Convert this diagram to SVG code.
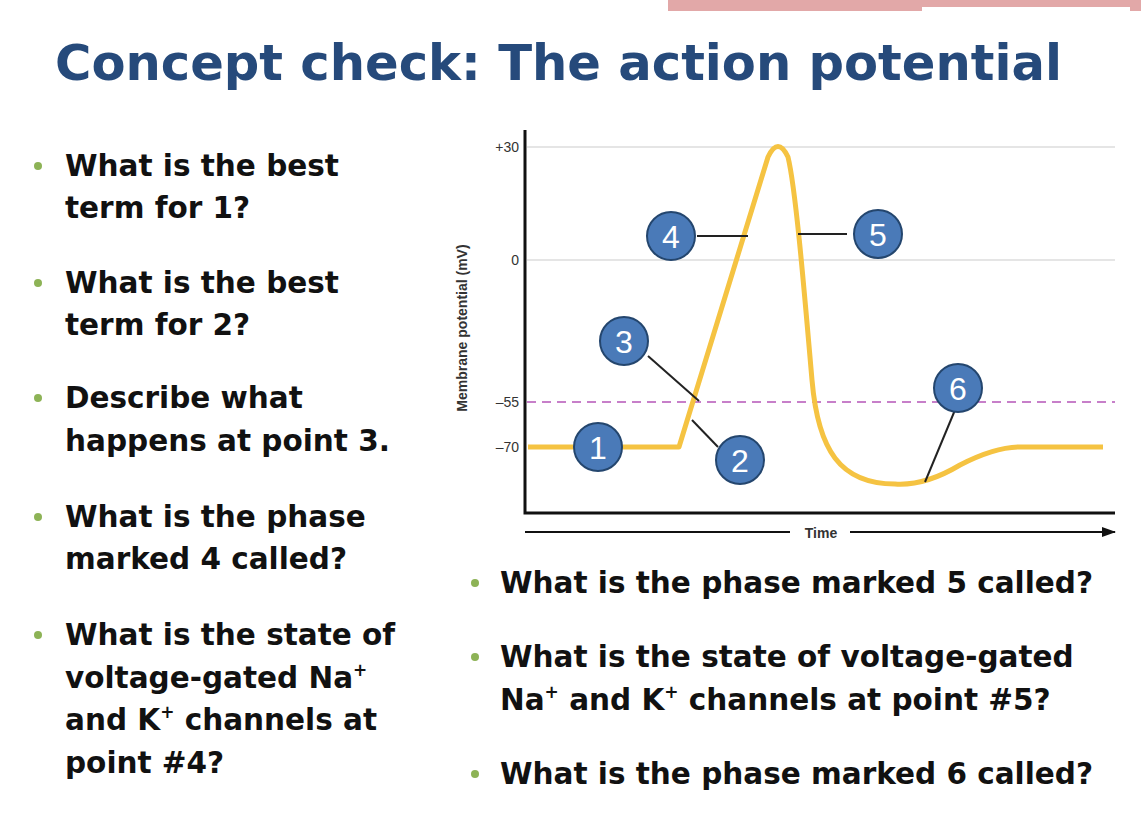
<svg xmlns="http://www.w3.org/2000/svg" width="1141" height="833" viewBox="0 0 1141 833">
<style>
.t{font-family:"DejaVu Sans",Verdana,sans-serif;font-weight:bold;font-size:29.5px;fill:#111}
.b{fill:#8db356}
.ax{font-family:"Liberation Sans",Arial,sans-serif;font-size:14px;fill:#333}
.c{fill:#4a7ab8;stroke:#24466e;stroke-width:2}
.n{font-family:"Liberation Sans Narrow","Liberation Sans",Arial,sans-serif;font-size:32px;fill:#fff;text-anchor:middle}
.ld{stroke:#222;stroke-width:2;fill:none}
.g{stroke:#ddd;stroke-width:1.5}
</style>
<defs><marker id="ar" markerWidth="14" markerHeight="10" refX="13" refY="5" orient="auto" markerUnits="userSpaceOnUse"><path d="M0,0 L14,5 L0,10z" fill="#111"/></marker></defs>
<rect width="1141" height="833" fill="#fff"/>
<rect x="668" y="0" width="473" height="11" fill="#e2a8a8"/>
<rect x="922" y="7" width="208" height="5" fill="#fff"/>
<text x="55" y="80" font-family="DejaVu Sans,Verdana,sans-serif" font-weight="bold" font-size="50" fill="#264a7b" textLength="1007" lengthAdjust="spacingAndGlyphs">Concept check: The action potential</text>
<g id="left-bullets">
<circle class="b" cx="38" cy="166" r="4"/><text class="t" x="65" y="176">What is the best</text><text class="t" x="65" y="218">term for 1?</text>
<circle class="b" cx="38" cy="283" r="4"/><text class="t" x="65" y="293">What is the best</text><text class="t" x="65" y="335">term for 2?</text>
<circle class="b" cx="38" cy="398" r="4"/><text class="t" x="65" y="408">Describe what</text><text class="t" x="65" y="451">happens at point 3.</text>
<circle class="b" cx="38" cy="517" r="4"/><text class="t" x="65" y="527">What is the phase</text><text class="t" x="65" y="569">marked 4 called?</text>
<circle class="b" cx="38" cy="635" r="4"/><text class="t" x="65" y="645">What is the state of</text>
<text class="t" x="65" y="688">voltage-gated Na<tspan font-size="17" dy="-12">+</tspan></text>
<text class="t" x="65" y="730">and K<tspan font-size="17" dy="-12">+</tspan><tspan dy="12"> channels at</tspan></text>
<text class="t" x="65" y="773">point #4?</text>
</g>
<g id="right-bullets">
<circle class="b" cx="475" cy="583" r="4"/><text class="t" x="500" y="593">What is the phase marked 5 called?</text>
<circle class="b" cx="475" cy="657" r="4"/><text class="t" x="500" y="667">What is the state of voltage-gated</text>
<text class="t" x="500" y="710">Na<tspan font-size="17" dy="-12">+</tspan><tspan dy="12"> and K</tspan><tspan font-size="17" dy="-12">+</tspan><tspan dy="12"> channels at point #5?</tspan></text>
<circle class="b" cx="475" cy="774" r="4"/><text class="t" x="500" y="784">What is the phase marked 6 called?</text>
</g>
<g id="chart">
<line class="g" x1="527" y1="147" x2="1115" y2="147"/>
<line class="g" x1="527" y1="260" x2="1115" y2="260"/>
<line x1="527" y1="402" x2="1115" y2="402" stroke="#c77fc9" stroke-width="2" stroke-dasharray="9,6"/>
<path d="M525,130 V513 H1115" fill="none" stroke="#111" stroke-width="3"/>
<text class="ax" x="519" y="152" text-anchor="end">+30</text>
<text class="ax" x="519" y="265" text-anchor="end">0</text>
<text class="ax" x="519" y="407" text-anchor="end">–55</text>
<text class="ax" x="519" y="452" text-anchor="end">–70</text>
<text class="ax" font-weight="bold" font-size="16" transform="translate(467,328) rotate(-90)" text-anchor="middle">Membrane potential (mV)</text>
<text class="ax" font-weight="bold" font-size="16" x="821" y="538" text-anchor="middle">Time</text>
<path d="M528,447 H679 L768,157 Q778,136 788,157 C796,190 805,300 812,380 C818,450 840,484 895,484 Q925,486 960,465 Q995,447 1020,447 H1103" fill="none" stroke="#f5c342" stroke-width="5" stroke-linejoin="round"/>
</g>
<g id="connectors">
<line x1="525" y1="532" x2="790" y2="532" stroke="#111" stroke-width="2"/>
<line x1="850" y1="532" x2="1115" y2="532" stroke="#111" stroke-width="2" marker-end="url(#ar)"/>
<line class="ld" x1="697" y1="236" x2="748" y2="236"/>
<line class="ld" x1="798" y1="234" x2="847" y2="234"/>
<line class="ld" x1="648" y1="356" x2="699" y2="401"/>
<line class="ld" x1="692" y1="420" x2="718" y2="447"/>
<line class="ld" x1="955" y1="410" x2="925" y2="482"/>
</g>
<g id="n1"><circle class="c" cx="598" cy="447" r="24"/><text class="n" x="598" y="459">1</text></g>
<g id="n2"><circle class="c" cx="740" cy="460" r="24"/><text class="n" x="740" y="472">2</text></g>
<g id="n3"><circle class="c" cx="624" cy="341" r="24"/><text class="n" x="624" y="353">3</text></g>
<g id="n4"><circle class="c" cx="671" cy="236" r="24"/><text class="n" x="671" y="248">4</text></g>
<g id="n5"><circle class="c" cx="878" cy="234" r="24"/><text class="n" x="878" y="246">5</text></g>
<g id="n6"><circle class="c" cx="958" cy="388" r="24"/><text class="n" x="958" y="400">6</text></g>
</svg>
